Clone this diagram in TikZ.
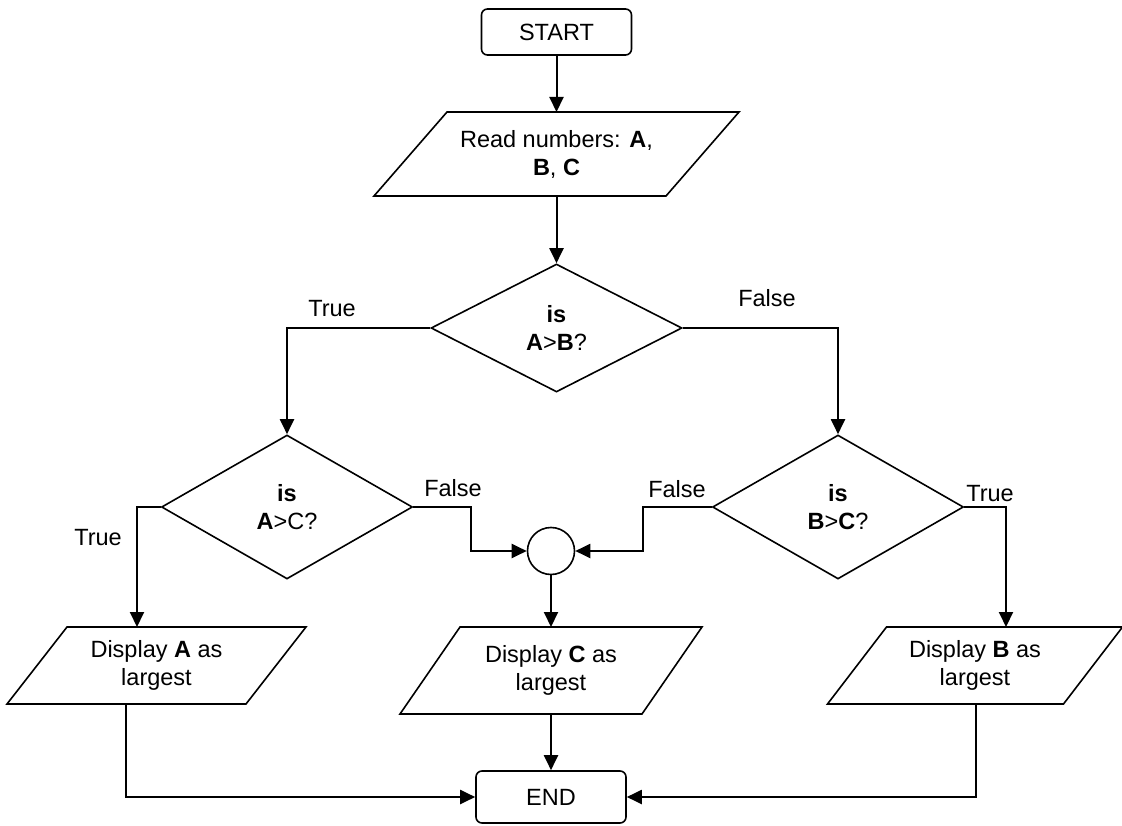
\documentclass[tikz,border=0pt]{standalone}
\usepackage{fontspec}
\setmainfont{Liberation Sans}
\usetikzlibrary{arrows.meta,shapes.geometric,calc}

% Parallelogram (input/output) box: name, centre, top-edge width, height, slant, text
\newcommand\iobox[6]{%
  \node[iotext, minimum width=#3pt, minimum height=#4pt] (#1) at (#2) {#6};
  \draw[shapeline]
    ($(#1.south west)+(-#5/2,0)$) -- ($(#1.south east)+(-#5/2,0)$) --
    ($(#1.north east)+(#5/2,0)$) -- ($(#1.north west)+(#5/2,0)$) -- cycle;
}

\begin{document}
\begin{tikzpicture}[x=1pt, y=-1pt,
  font=\fontsize{23.5}{28}\selectfont,
  shapeline/.style={line width=1.6pt, line join=miter},
  terminal/.style={draw, shapeline, rounded corners=6pt, inner sep=0pt,
    minimum width=150pt, minimum height=#1},
  decision/.style={diamond, draw, shapeline, inner sep=0pt, align=center,
    minimum width=251pt, minimum height=#1},
  iotext/.style={inner sep=0pt, outer sep=0pt, align=center},
  junction/.style={circle, draw, shapeline, inner sep=0pt, minimum size=47pt},
  conn/.style={line width=2pt, -{Triangle[length=15pt, width=14pt]}},
  lbl/.style={inner sep=0pt}
]
\useasboundingbox (0,0) rectangle (1122,826);

% terminals
\node[terminal=46pt] (start) at (556.5,32) {START};
\node[terminal=52pt] (end) at (551,797) {END};

% input
\iobox{read}{556.5,154}{292}{84}{73}{Read numbers: \textbf{A},\\\textbf{B}, \textbf{C}}

% decisions
\node[decision=128pt] (d1) at (556.5,328) {\textbf{is}\\\textbf{A}>\textbf{B}?};
\node[decision=144pt] (d2) at (287,507) {\textbf{is}\\\textbf{A}>C?};
\node[decision=144pt] (d3) at (838,507) {\textbf{is}\\\textbf{B}>\textbf{C}?};

% connector circle
\node[junction] (join) at (551,551) {};

% outputs
\iobox{dispA}{156.5,665.5}{239}{77}{60}{Display \textbf{A} as\\largest}
\iobox{dispC}{551,670.5}{242}{87}{60}{Display \textbf{C} as\\largest}
\iobox{dispB}{975,665.5}{236}{77}{59}{Display \textbf{B} as\\largest}

% flow
\draw[conn] (start) -- (read);
\draw[conn] (read) -- (d1);
\draw[conn] (d1.west) -| (d2.north);
\draw[conn] (d1.east) -| (d3.north);
\draw[conn] (d2.west) -| ($(dispA.north)+(-19.5,0)$);
\draw[conn] (d2.east) -- ++(58,0) |- (join.west);
\draw[conn] (d3.west) -- ++(-69,0) |- (join.east);
\draw[conn] (d3.east) -| ($(dispB.north)+(31,0)$);
\draw[conn] (join) -- (dispC);
\draw[conn] (dispC) -- (end);
\draw[conn] ($(dispA.south)+(-30.5,0)$) |- (end.west);
\draw[conn] ($(dispB.south)+(1,0)$) |- (end.east);

% branch labels
\node[lbl] (t1) at (332,309) {True};
\node[lbl] (f1) at (767,298) {False};
\node[lbl] (t2) at (98,538) {True};
\node[lbl] (f2) at (453,488) {False};
\node[lbl] (f3) at (677,489) {False};
\node[lbl] (t3) at (990,494) {True};
\end{tikzpicture}
\end{document}
